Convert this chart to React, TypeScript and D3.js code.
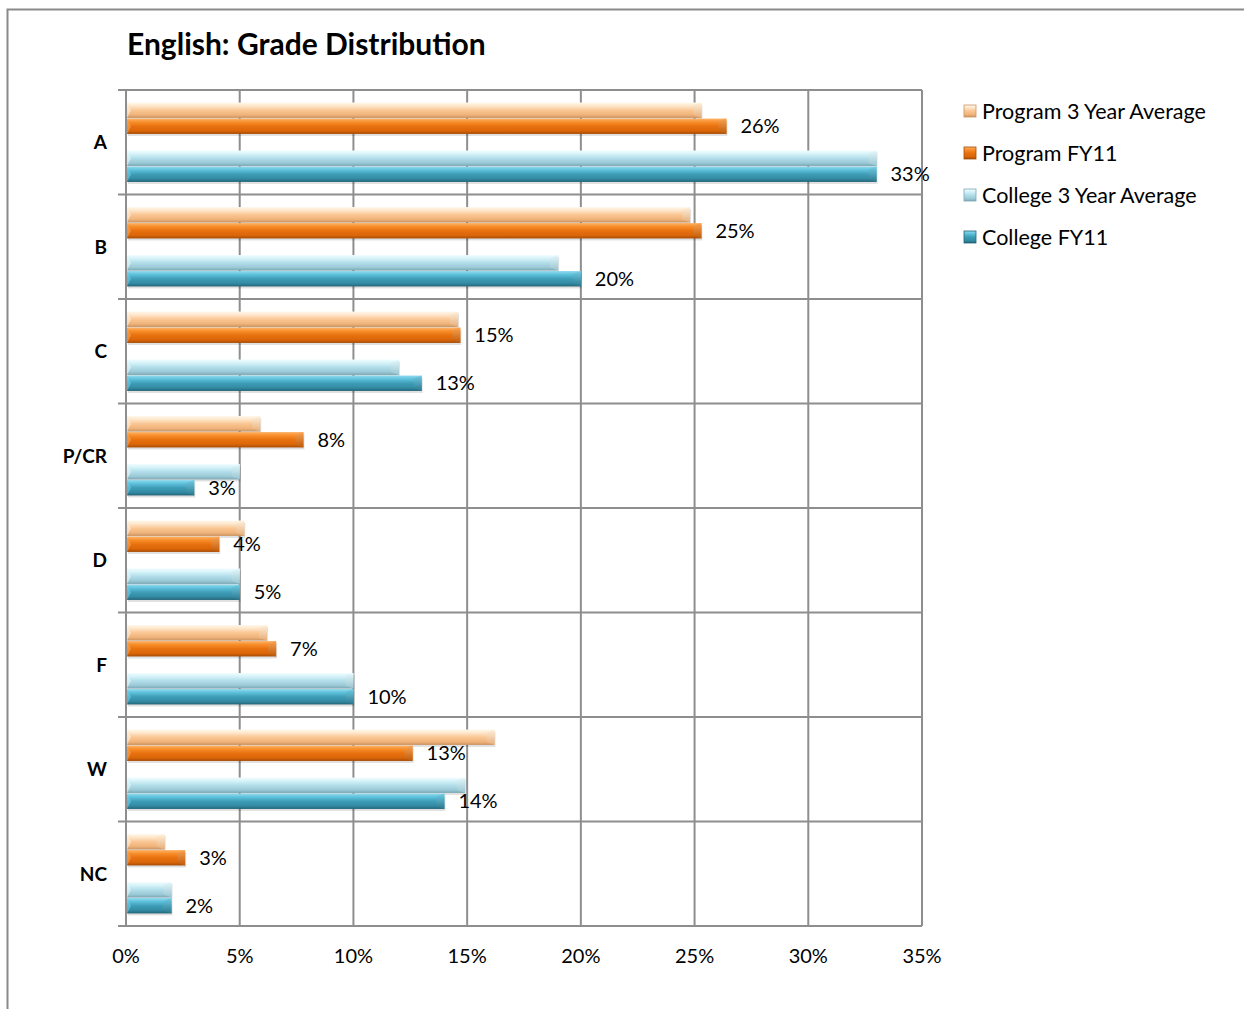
import React from "react";
import * as d3 from "d3";

const categories = ["A", "B", "C", "P/CR", "D", "F", "W", "NC"];
const program3yr = [25.3, 24.8, 14.6, 5.9, 5.2, 6.2, 16.2, 1.7];
const programFY11 = [26.4, 25.3, 14.7, 7.8, 4.1, 6.6, 12.6, 2.6];
const college3yr = [33.0, 19.0, 12.0, 5.0, 5.0, 10.0, 14.9, 2.0];
const collegeFY11 = [33.0, 20.0, 13.0, 3.0, 5.0, 10.0, 14.0, 2.0];
const xTicks = [0, 5, 10, 15, 20, 25, 30, 35];
const seriesNames = ["Program 3 Year Average", "Program FY11", "College 3 Year Average", "College FY11"];

const FONT = "Lato, 'Open Sans', sans-serif";

type Series = { key: string; name: string; values: number[]; labels: boolean; stops: string[]; cap: string[] };

const series: Series[] = [
  { key: "p3", name: seriesNames[0], values: program3yr, labels: false,
    stops: ["#FFF8EC", "#FEE6CA", "#FAC693", "#F0B37A", "#C99463"], cap: ["#FFF0DC", "#E7AE78"] },
  { key: "pfy", name: seriesNames[1], values: programFY11, labels: true,
    stops: ["#FCB46C", "#F88F2B", "#E8710F", "#DA6609", "#A64C06"], cap: ["#F8A352", "#C05A08"] },
  { key: "c3", name: seriesNames[2], values: college3yr, labels: false,
    stops: ["#F0FDFF", "#D6F3F9", "#B2DEEA", "#9BC9D6", "#7CA8B4"], cap: ["#E4F8FC", "#99C4D0"] },
  { key: "cfy", name: seriesNames[3], values: collegeFY11, labels: true,
    stops: ["#92DAEE", "#5FC2DD", "#3F9DB7", "#328AA2", "#236478"], cap: ["#70CCE4", "#2A788E"] },
];

export default function App() {
  const W = 1244, H = 1009;
  const x = d3.scaleLinear().domain([0, 35]).range([126, 922]);
  const y = d3.scaleBand<string>().domain(categories).range([90, 926]).paddingInner(0).paddingOuter(0);
  const inner = d3.scaleBand<string>().domain(["p3", "pfy", "gap", "c3", "cfy"]).range([0, y.bandwidth()]).paddingInner(0).paddingOuter(0.766);
  const bh = inner.bandwidth() - 0.6;
  const grid = "#8E8E8E";

  return (
    <svg width={W} height={H} style={{ position: "absolute", left: 0, top: 0 }} fontFamily={FONT}>
      <defs>
        {series.map((s) => (
          <linearGradient key={s.key} id={"g-" + s.key} x1="0" y1="0" x2="0" y2="1">
            <stop offset="0" stopColor={s.stops[0]} />
            <stop offset="0.22" stopColor={s.stops[1]} />
            <stop offset="0.5" stopColor={s.stops[2]} />
            <stop offset="0.8" stopColor={s.stops[3]} />
            <stop offset="1" stopColor={s.stops[4]} />
          </linearGradient>
        ))}
        {series.map((s) => (
          <linearGradient key={s.key + "c"} id={"c-" + s.key} x1="0" y1="0" x2="0" y2="1">
            <stop offset="0" stopColor={s.cap[0]} />
            <stop offset="1" stopColor={s.cap[1]} />
          </linearGradient>
        ))}
      </defs>
      <rect width={W} height={H} fill="#fff" />
      {/* outer border */}
      <path d={`M7.5,${H} L7.5,9.5 L${W},9.5`} fill="none" stroke="#8A8A8A" strokeWidth={2} />

      {/* title */}
      <text x={127} y={55} fontSize={30} fontWeight="bold" fill="#000">English: Grade Distribution</text>

      {/* vertical gridlines */}
      {xTicks.map((t) => (
        <line key={"vx" + t} x1={x(t)} x2={x(t)} y1={90} y2={926} stroke={grid} strokeWidth={2} />
      ))}
      {/* horizontal gridlines / category boundaries */}
      {categories.map((c) => (
        <line key={"hy" + c} x1={118} x2={922} y1={y(c)!} y2={y(c)!} stroke={grid} strokeWidth={2} />
      ))}
      <line x1={118} x2={922} y1={926} y2={926} stroke={grid} strokeWidth={2} />

      {/* bars */}
      {categories.map((c, i) => (
        <g key={"grp" + c}>
          {series.map((s) => {
            const v = s.values[i];
            const y0 = y(c)! + inner(s.key)! + 0.3;
            const x0 = x(0) + 1;
            const x1 = x(v);
            const w = x1 - x0;
            const capW = Math.min(8, w * 0.4);
            return (
              <g key={s.key}>
                <rect x={x0 + 1} y={y0 + 2} width={w} height={bh} fill="#000" opacity={0.12} />
                <rect x={x0} y={y0} width={w} height={bh} fill={`url(#g-${s.key})`} />
                <polygon
                  points={`${x1 - capW},${y0 + 3} ${x1},${y0} ${x1},${y0 + bh} ${x1 - capW},${y0 + bh - 3}`}
                  fill={`url(#c-${s.key})`}
                />
                <polygon
                  points={`${x0},${y0} ${x0 + 4},${y0 + bh / 2} ${x0},${y0 + bh}`}
                  fill={s.cap[0]}
                  opacity={0.6}
                />
              </g>
            );
          })}
        </g>
      ))}

      {/* data labels */}
      {categories.map((c, i) =>
        series.filter((s) => s.labels).map((s) => {
          const v = s.values[i];
          const cy = y(c)! + inner(s.key)! + inner.bandwidth() / 2;
          return (
            <text key={"l" + c + s.key} x={x(v) + 14} y={cy} dy="0.36em" fontSize={20} fill="#000">
              {Math.round(v) + "%"}
            </text>
          );
        })
      )}

      {/* category labels */}
      {categories.map((c) => (
        <text key={"cat" + c} x={107} y={y(c)! + y.bandwidth() / 2} dy="0.36em" textAnchor="end" fontSize={19} fontWeight="bold" fill="#000">
          {c}
        </text>
      ))}

      {/* x tick labels */}
      {xTicks.map((t) => (
        <text key={"xt" + t} x={x(t)} y={963} textAnchor="middle" fontSize={20} fill="#000">
          {t + "%"}
        </text>
      ))}

      {/* legend */}
      {series.map((s, i) => {
        const ly = 111 + i * 42;
        return (
          <g key={"lg" + s.key}>
            <rect x={964} y={ly - 6} width={12} height={12} fill={`url(#g-${s.key})`} stroke={s.stops[4]} strokeWidth={0.8} />
            <text x={982} y={ly} dy="0.36em" fontSize={21.5} fill="#000">{s.name}</text>
          </g>
        );
      })}
    </svg>
  );
}
